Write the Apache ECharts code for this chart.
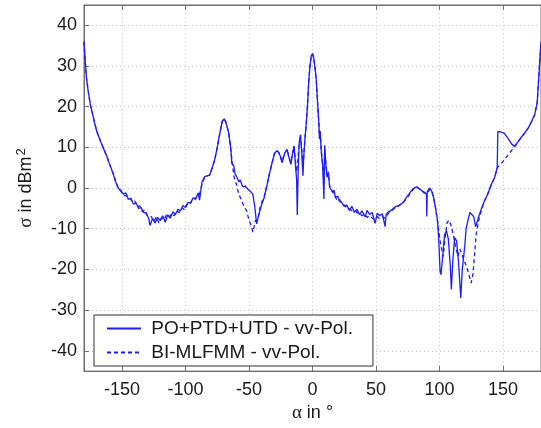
<!DOCTYPE html>
<html>
<head>
<meta charset="utf-8">
<script src="https://cdn.jsdelivr.net/npm/echarts@6/dist/echarts.min.js"></script>
<style>
  html, body { margin: 0; padding: 0; background: #fff; }
  #chart { width: 541px; height: 428px; }
</style>
</head>
<body>
<div id="chart"></div>
<script>
// PO+PTD+UTD (solid)
const anglesPo = [
  -180, -179, -178, -177, -175, -172, -170, -167, -165, -162, -160, -157, -155, -153, -151, -149,
  -147, -145, -143, -141, -139, -137, -135, -133, -131, -129, -128, -126, -124, -122, -120, -118,
  -116, -114, -112, -110, -108, -106, -104, -102, -100, -98, -96, -94, -92, -90, -89, -87,
  -85, -83, -81, -79, -77, -75, -73, -71, -69.5, -68, -66, -64.5, -63.5, -62, -61, -60,
  -58, -57, -55, -53, -51, -49, -47, -45.5, -44, -43, -42, -40, -38, -36, -34, -32,
  -30, -28, -26.5, -25, -24, -22, -20, -18.5, -17, -16, -14.5, -13.5, -12.5, -12, -11.3, -10.5,
  -9.5, -8.5, -7.5, -7, -6, -5, -4, -3, -2, -1, 0, 1, 2, 3, 4, 5,
  5.5, 6, 7, 8, 9, 9.6, 10.5, 11.5, 12.5, 13.5, 14.5, 16, 17, 18, 20, 21,
  23, 25, 27, 29, 31, 33, 35, 37, 39, 41.5, 43, 45, 47, 49.3, 51, 53,
  55, 57.2, 58, 60, 62, 64, 66, 68, 70, 72, 74, 76, 78, 80, 82, 84,
  86, 88, 89.8, 90, 90.4, 92.5, 94, 95.5, 97, 98.5, 99.5, 100.5, 101.2, 102.5, 104, 105.5,
  107, 108.5, 109.4, 110.5, 112, 113.5, 115, 116.8, 118, 119.9, 121, 122.5, 124, 125.5, 127, 128.5,
  130, 132, 135, 138, 141, 143.5, 145.5, 146, 148, 151, 154, 157, 159, 161, 164, 167,
  170, 172, 175, 177, 178, 179, 180
];
const rcsPo = [
  36, 31, 27, 24.5, 20.5, 16.5, 14, 11.5, 10, 7.8, 6, 3.5, 1.5, 0, -0.8, -1.5,
  -1.2, -2.8, -2.5, -4, -3.6, -5, -4.8, -6, -6.2, -7.5, -9.2, -7.5, -8.6, -7.2, -8, -6.8,
  -8.4, -6.6, -7.4, -5.8, -6.5, -5.2, -5.6, -4.3, -4.8, -3.5, -3.7, -2.4, -2.6, -1.2, -3, 1.5,
  2.8, 3, 3.2, 5, 7, 10, 13.5, 16.5, 17, 16, 13.5, 10, 6, 5.5, 3.5, 3,
  1.5, 2, 0.3, 0.5, -0.3, -0.8, -1.5, -4.5, -8.8, -7.5, -6.3, -4, -2.3, 0.5, 3.4, 6,
  8.5, 9.2, 8.7, 7.5, 6.2, 8.5, 9.5, 7.5, 5.8, 8, 10.3, 6, 2, -6.6, 4, 11,
  13.1, 9, 3, 7, 12, 15.5, 20, 26, 30, 32.5, 33, 32, 29.5, 26.5, 21, 16,
  12, 14, 8.5, 5.5, -2.7, 10.5, 6, 2.6, 4, 0.2, 0.5, -1, -0.5, -2.3, -2, -3.2,
  -3.5, -4.5, -4.2, -5.5, -4.5, -6, -5.2, -6.5, -5.6, -7.1, -5.5, -6.5, -6, -8.7, -6.2, -6.8,
  -6.3, -9.5, -6.5, -5.8, -5.5, -4.9, -4.5, -4.3, -3.9, -3.3, -2.3, -1.5, -0.6, 0, 0.3, -0.2,
  -0.6, -1.2, -1.5, -7, -0.8, 0, -0.8, -2.5, -5, -8, -13, -20.5, -21.3, -17, -11.5, -10.5,
  -12.5, -19, -24.9, -18, -12.2, -13, -18, -27, -20, -14.4, -10, -7.9, -6, -5.8, -7, -9.5,
  -8, -6, -3.5, -1.5, 1, 2.6, 5, 13.9, 13.8, 13.5, 12.2, 10.8, 10.3, 11, 12.3, 13.5,
  14.8, 16, 18, 21, 26, 31, 36
];

// BI-MLFMM (dashed)
const anglesMlfmm = [
  -180, -179, -178, -177, -175, -172, -170, -167, -165, -162, -160, -157, -155, -153, -151, -149,
  -146, -144, -142, -140, -138, -136, -134, -132, -130, -127, -125, -123, -121, -119, -117, -115,
  -113, -111, -109, -107, -105, -103, -101, -99, -97, -95, -93, -91, -89, -87, -85, -83,
  -81, -79, -77, -75, -73, -71, -69.5, -68, -66, -64.5, -63.5, -62, -60, -58, -56, -54,
  -52, -50, -48, -47, -46, -45, -43, -42, -40, -38, -36, -34, -32, -30, -28, -26.5,
  -25, -24, -22, -20, -18.5, -17, -16, -14.5, -13.5, -12.5, -11.5, -10.5, -9.5, -8.5, -7.5, -7,
  -6, -5, -4, -3, -2, -1, 0, 1, 2, 3, 4, 5, 5.5, 6, 7, 8,
  9, 9.6, 10.5, 11.5, 12.5, 13.5, 15, 17, 19, 21, 23, 25, 27, 29, 31, 33,
  35, 37, 39, 41, 43, 45, 47, 49, 51, 53, 55, 57, 59, 61, 63, 65,
  67, 70, 72, 74, 76, 78, 80, 82, 84, 86, 88, 90, 92.5, 94, 95.5, 97,
  99, 101, 103, 104.5, 106, 107.5, 109, 110.7, 112.5, 114.6, 116, 117.5, 119, 121, 123, 125,
  126.5, 128, 129, 131, 133, 135, 138, 141, 143.5, 145.5, 150, 155, 160, 164, 167, 170,
  172, 175, 177, 178, 179, 180
];
const rcsMlfmm = [
  36, 31, 27, 24.5, 20.5, 16.5, 14, 11.5, 10, 7.8, 6, 3.5, 1.5, 0, -0.5, -1.8,
  -2, -2.2, -3.4, -3.2, -4.6, -4.4, -5.8, -5.4, -6.8, -7, -8.2, -7.1, -8.6, -7.4, -7.8, -6.6,
  -7.2, -6.3, -6.8, -5.6, -6, -4.9, -5.3, -4, -4.2, -3, -3.1, -2, -1.5, 1, 2.6, 3,
  3.2, 5, 7, 10, 13.5, 16.5, 17, 16, 13.5, 10, 7, 3, 1, -1.5, -3, -4.5,
  -5.5, -7.9, -9.5, -10.8, -9.5, -8, -7.8, -5.5, -3.5, -2, 0.5, 3.4, 6, 8.5, 9.2, 8.7,
  7.5, 6.5, 8.5, 9.5, 7.5, 6.2, 8, 10.3, 7, 4, 7, 11, 13.1, 9.5, 5, 7.5,
  12, 15.5, 20, 26, 30, 32.5, 33, 32, 29.5, 26.5, 21, 16, 12.5, 14, 9, 6,
  1, 9.5, 6, 3, 3.5, 0.5, -0.6, -1.5, -2.8, -2.6, -3.8, -4.2, -4.8, -5, -5.6, -5.4,
  -6, -6.2, -6.8, -6.4, -7.2, -6.8, -7.4, -7.6, -7, -7.6, -7.1, -7.4, -6.6, -5.8, -5.4, -4.9,
  -4.6, -3.9, -3.4, -2.6, -1.8, -0.8, -0.1, 0.3, -0.1, -0.6, -1, -1.4, -0.3, -0.8, -2.5, -5,
  -9.5, -14, -16.8, -12, -8.5, -7.9, -9, -11.2, -14, -16.8, -15, -16, -17.6, -19, -21, -23.3,
  -21, -15, -11.2, -7.9, -5.5, -3.5, -1.5, 1, 2.6, 5, 6.5, 8.5, 10.5, 12.3, 13.5, 14.8,
  16, 18, 21, 26, 31, 36
];

const lineBlue = '#1c1cff';
const frameGrey = '#6e6e6e';

const chart = echarts.init(document.getElementById('chart'), null, { renderer: 'canvas' });

const labelFont = { fontFamily: 'Liberation Sans, Arial, sans-serif', fontSize: 18, color: '#1a1a1a' };
const nameRich = {
  g: { fontFamily: 'Liberation Serif, Times New Roman, serif', fontSize: 19, color: '#1a1a1a' },
  t: { fontFamily: 'Liberation Sans, Arial, sans-serif', fontSize: 18, color: '#1a1a1a' },
  s: { fontFamily: 'Liberation Sans, Arial, sans-serif', fontSize: 13, color: '#1a1a1a', verticalAlign: 'top', padding: [0, 0, 10, 1] }
};
const gridLine = { show: true, lineStyle: { color: '#c4c4c4', type: [1, 3], width: 1 } };
const frameTick = { show: true, inside: true, length: 5, lineStyle: { color: frameGrey } };

const option = {
  animation: false,
  backgroundColor: '#fff',
  grid: {
    left: 84, top: 5, width: 459, height: 370,
    show: true, borderColor: frameGrey, borderWidth: 1, backgroundColor: '#fff'
  },
  legend: {
    orient: 'vertical',
    left: 94, top: 315,
    padding: [4, 20, 4, 12],
    itemWidth: 34, itemHeight: 12, itemGap: 5,
    backgroundColor: '#fff',
    borderColor: '#333', borderWidth: 1,
    itemStyle: { opacity: 0 },
    formatter: name => ' ' + name,
    textStyle: { fontFamily: 'Liberation Sans, Arial, sans-serif', fontSize: 19, color: '#1a1a1a' },
    data: ['PO+PTD+UTD - vv-Pol.', 'BI-MLFMM - vv-Pol.']
  },
  xAxis: [
    {
      type: 'value', position: 'bottom', min: -180, max: 180, splitNumber: 7,
      name: '{g|α}{t| in °}', nameLocation: 'middle', nameGap: 32,
      nameTextStyle: { rich: nameRich },
      axisLine: { show: true, onZero: false, lineStyle: { color: frameGrey } },
      axisTick: frameTick,
      axisLabel: Object.assign({ margin: 10, showMinLabel: false, showMaxLabel: false }, labelFont),
      splitLine: gridLine
    },
    {
      type: 'value', position: 'top', min: -180, max: 180, splitNumber: 7,
      axisLine: { show: true, onZero: false, lineStyle: { color: frameGrey } },
      axisTick: frameTick,
      axisLabel: { show: false },
      splitLine: { show: false }
    }
  ],
  yAxis: {
    type: 'value', min: -45, max: 45, splitNumber: 9,
    name: '{g|σ}{t| in dBm}{s|2}', nameLocation: 'middle', nameGap: 46,
    nameTextStyle: { rich: nameRich },
    axisLine: { show: true, onZero: false, lineStyle: { color: frameGrey } },
    axisTick: frameTick,
    axisLabel: Object.assign({ margin: 7, showMinLabel: false, showMaxLabel: false }, labelFont),
    splitLine: gridLine
  },
  series: [
    {
      name: 'PO+PTD+UTD - vv-Pol.', type: 'line', symbol: 'none',
      color: lineBlue,
      lineStyle: { color: lineBlue, width: 1.3, type: 'solid' },
      data: anglesPo.map((a, i) => [a, rcsPo[i]])
    },
    {
      name: 'BI-MLFMM - vv-Pol.', type: 'line', symbol: 'none',
      color: lineBlue,
      lineStyle: { color: lineBlue, width: 1.3, type: [4, 3] },
      data: anglesMlfmm.map((a, i) => [a, rcsMlfmm[i]])
    }
  ]
};

chart.setOption(option);
</script>
</body>
</html>
